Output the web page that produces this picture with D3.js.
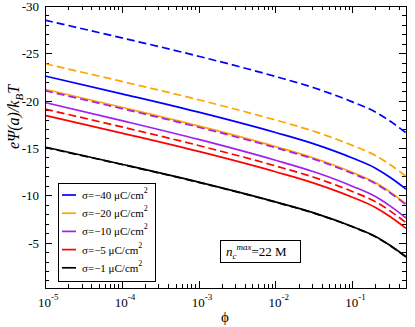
<!DOCTYPE html>
<html lang="en">
<head>
<meta charset="UTF-8">
<title>Surface potential</title>
<script src="https://d3js.org/d3.v7.min.js"></script>
<style>
    body { margin: 0; background: #fff; }
    text { font-family: "Liberation Serif", "Times New Roman", serif; fill: #000; }
    .frame { fill: none; stroke: #000; stroke-width: 1; }
    .curve { fill: none; stroke-width: 1.7; }
</style>
</head>
<body>
<script>

    var width = 415,
        height = 327;

    // volume fraction (x)
    var phi = [1e-5, 1e-4, 1e-3, 1e-2, 0.0316, 0.1, 0.2, 0.316, 0.5];

    // e*Psi(a)/kBT, solid and dashed for every sigma
    var solid40  = [-22.6, -20.72, -18.78, -16.63, -15.43, -13.94, -12.86, -11.85, -10.65];
    var dashed40 = [-28.5, -26.63, -24.69, -22.55, -21.36, -19.87, -18.8, -17.79, -16.6];
    var solid20  = [-21.2, -19.3, -17.33, -15.15, -13.94, -12.43, -11.34, -10.31, -9.1];
    var dashed20 = [-23.9, -22.03, -20.09, -17.95, -16.76, -15.27, -14.2, -13.19, -12.0];
    var solid10  = [-19.8, -17.89, -15.9, -13.7, -12.48, -10.96, -9.86, -8.82, -7.6];
    var dashed10 = [-21.05, -19.16, -17.19, -15.03, -13.82, -12.31, -11.23, -10.21, -9.0];
    var solid5   = [-18.45, -16.57, -14.63, -12.48, -11.28, -9.79, -8.71, -7.7, -6.5];
    var dashed5  = [-19.1, -17.22, -15.26, -13.1, -11.9, -10.4, -9.32, -8.3, -7.1];
    var solid1   = [-15.1, -13.28, -11.39, -9.3, -8.14, -6.69, -5.65, -4.66, -3.5];
    var dashed1  = [-15.05, -13.25, -11.36, -9.27, -8.11, -6.67, -5.62, -4.64, -3.48];

    var sigmaLabels = ["\u221240", "\u221220", "\u221210", "\u22125", "\u22121"];
    var colors = ["#0000ff", "#ffa500", "#a020f0", "#ff0000", "#000000"];
    var solidSets = [solid40, solid20, solid10, solid5, solid1];
    var dashedSets = [dashed40, dashed20, dashed10, dashed5, dashed1];

    var yMajor = [-30, -25, -20, -15, -10, -5];
    var xMajor = [1e-5, 1e-4, 1e-3, 1e-2, 1e-1];

    var pLeft = 45, pRight = 406, pTop = 6, pBottom = 288;

    var x = d3.scaleLog().domain([1e-5, 0.5]).range([pLeft, pRight]);
    var y = d3.scaleLinear().domain([-0.2, -30]).range([pBottom, pTop]);

    var svg = d3.select("body").append("svg")
        .attr("width", width)
        .attr("height", height);

    // minor tick positions
    var xMinor = [];
    xMajor.forEach(function(d) {
        for (var k = 2; k <= 9; k++) {
            if (d * k <= 0.5) xMinor.push(d * k);
        }
    });
    var yMinor = d3.range(-29, 0, 1).filter(function(v) { return v % 5 !== 0; });

    function drawAxis(axis, tx, ty) {
        var g = svg.append("g")
            .attr("transform", "translate(" + tx + "," + ty + ")")
            .call(axis);
        g.selectAll(".domain").remove();
        g.selectAll("text").remove();
        g.selectAll("line").attr("stroke", "#000").attr("shape-rendering", "crispEdges");
        return g;
    }

    // ticks pointing inward on all four sides
    drawAxis(d3.axisBottom(x).tickValues(xMajor).tickSizeInner(-7), 0, pBottom);
    drawAxis(d3.axisBottom(x).tickValues(xMinor).tickSizeInner(-4), 0, pBottom);
    drawAxis(d3.axisTop(x).tickValues(xMajor).tickSizeInner(-7), 0, pTop);
    drawAxis(d3.axisTop(x).tickValues(xMinor).tickSizeInner(-4), 0, pTop);
    drawAxis(d3.axisLeft(y).tickValues(yMajor).tickSizeInner(-7), pLeft, 0);
    drawAxis(d3.axisLeft(y).tickValues(yMinor).tickSizeInner(-4), pLeft, 0);
    drawAxis(d3.axisRight(y).tickValues(yMajor).tickSizeInner(-7), pRight, 0);
    drawAxis(d3.axisRight(y).tickValues(yMinor).tickSizeInner(-4), pRight, 0);

    // curves
    var line = d3.line()
        .x(function(d) { return x(d[0]); })
        .y(function(d) { return y(d[1]); })
        .curve(d3.curveMonotoneX);

    var plot = svg.append("g");

    function pairs(vals) {
        return vals.map(function(v, i) { return [phi[i], v]; });
    }

    solidSets.forEach(function(s, i) {
        plot.append("path")
            .attr("class", "curve")
            .attr("d", line(pairs(dashedSets[i])))
            .attr("stroke", colors[i])
            .attr("stroke-width", i === 4 ? 2.4 : 1.7)
            .attr("stroke-dasharray", "8,4");
        plot.append("path")
            .attr("class", "curve")
            .attr("d", line(pairs(s)))
            .attr("stroke", colors[i])
            .attr("stroke-width", i === 4 ? 2.4 : 1.7);
    });

    svg.append("rect")
        .attr("class", "frame")
        .attr("x", pLeft + 0.5)
        .attr("y", pTop + 0.5)
        .attr("width", pRight - pLeft)
        .attr("height", pBottom - pTop);

    // tick labels
    svg.selectAll(".ylab")
        .data(yMajor)
        .enter().append("text")
        .attr("class", "ylab")
        .attr("x", pLeft - 6)
        .attr("y", function(d) { return y(d) + 5; })
        .attr("text-anchor", "end")
        .attr("font-size", 13)
        .text(function(d) { return String(d); });

    var xl = svg.selectAll(".xlab")
        .data(xMajor)
        .enter().append("text")
        .attr("class", "xlab")
        .attr("x", function(d) { return x(d) - 7; })
        .attr("y", 307)
        .attr("font-size", 13);
    xl.append("tspan").text("10");
    xl.append("tspan")
        .attr("dy", -7)
        .attr("font-size", 9)
        .text(function(d) { return String(Math.round(Math.log10(d))); });

    // axis titles
    svg.append("text")
        .attr("x", 225)
        .attr("y", 322)
        .attr("text-anchor", "middle")
        .attr("font-size", 15)
        .text("\u03d5");

    var yt = svg.append("text")
        .attr("transform", "translate(19,117) rotate(-90)")
        .attr("text-anchor", "middle")
        .attr("font-size", 16)
        .attr("font-style", "italic");
    yt.append("tspan").text("e\u03a8(a)/k");
    yt.append("tspan").attr("dy", 4).attr("font-size", 11).text("B");
    yt.append("tspan").attr("dy", -4).text("T");

    // legend
    var lg = svg.append("g");
    lg.append("rect")
        .attr("class", "frame")
        .attr("x", 58.5)
        .attr("y", 183.5)
        .attr("width", 97)
        .attr("height", 98);

    sigmaLabels.forEach(function(s, i) {
        var ly = 195 + i * 18.2;
        lg.append("line")
            .attr("x1", 62).attr("x2", 76)
            .attr("y1", ly).attr("y2", ly)
            .attr("stroke", colors[i])
            .attr("stroke-width", 1.7);
        var t = lg.append("text")
            .attr("x", 82)
            .attr("y", ly + 4)
            .attr("font-size", 11);
        t.append("tspan").text("\u03c3=" + s + " \u03bcC/cm");
        t.append("tspan").attr("dy", -6).attr("font-size", 8).text("2");
    });

    // annotation box
    svg.append("rect")
        .attr("class", "frame")
        .attr("x", 220.5)
        .attr("y", 240.5)
        .attr("width", 80)
        .attr("height", 22);

    var nt = svg.append("text")
        .attr("x", 226)
        .attr("y", 256)
        .attr("font-size", 13);
    nt.append("tspan").attr("font-style", "italic").text("n");
    nt.append("tspan").attr("font-style", "italic").attr("dy", 3).attr("font-size", 9).text("c");
    nt.append("tspan").attr("font-style", "italic").attr("dy", -9).attr("font-size", 9).text("max");
    nt.append("tspan").attr("dy", 6).text("=22 M");

</script>
</body>
</html>
